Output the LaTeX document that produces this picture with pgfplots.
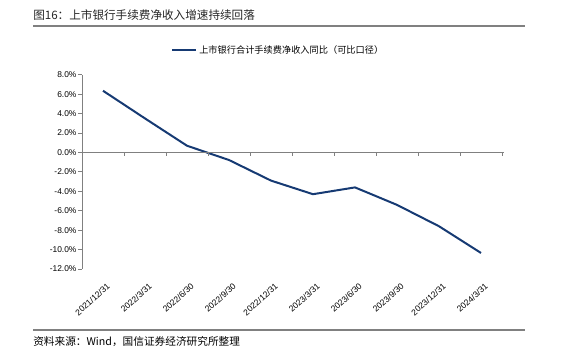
\documentclass[border=0pt]{standalone}
\usepackage{fontspec}
\usepackage{pgfplots}
\pgfplotsset{compat=1.18}
\setmainfont{Noto Sans CJK SC}
\newfontfamily\latinfont{Liberation Sans}
\definecolor{lineblue}{RGB}{22,58,115}
\definecolor{axgray}{RGB}{128,128,128}
\begin{document}
\begin{tikzpicture}
\begin{scope}[x=0.75pt,y=0.75pt]
\useasboundingbox (0,0) rectangle (575,352);
% title and rules
\node[anchor=west,inner sep=0pt,font=\fontsize{8.7pt}{10pt}\selectfont,text=black!85] at (33,337) {图16：上市银行手续费净收入增速持续回落};
\draw[axgray,line width=0.8pt] (33,326) -- (525,326);
\draw[axgray,line width=0.8pt] (33,22) -- (525,22);
\node[anchor=west,inner sep=0pt,font=\fontsize{8pt}{9pt}\selectfont] at (33,10) {资料来源：Wind，国信证券经济研究所整理};
% legend
\draw[lineblue,line width=1.5pt] (172,302) -- (196,302);
\node[anchor=west,inner sep=0pt,font=\fontsize{6.9pt}{8pt}\selectfont] at (199,302) {上市银行合计手续费净收入同比（可比口径）};
\end{scope}
\begin{axis}[
  at={(61.5pt,62.25pt)}, anchor=south west,
  scale only axis, width=315pt, height=145.7pt,
  xmin=-0.5, xmax=9.5, ymin=-12, ymax=8,
  axis x line*=bottom,
  x axis line style={draw=none},
  axis y line*=left,
  y axis line style={axgray,line width=0.6pt,-},
  xtick={0,...,9},
  xticklabels={{2021/12/31},{2022/3/31},{2022/6/30},{2022/9/30},{2022/12/31},{2023/3/31},{2023/6/30},{2023/9/30},{2023/12/31},{2024/3/31}},
  xtick style={draw=none},
  xticklabel style={rotate=42,anchor=north east,inner sep=0pt,xshift=-3pt,yshift=-7pt,font=\latinfont\fontsize{6.4pt}{7pt}\selectfont},
  ytick={-12,-10,...,8},
  ytick style={axgray,line width=0.6pt},
  tick align=outside, major tick length=3pt,
  yticklabel={\pgfmathprintnumber[fixed,fixed zerofill,precision=1]{\tick}\%},
  yticklabel style={font=\latinfont\fontsize{6.3pt}{7pt}\selectfont,inner sep=1pt},
  /pgf/number format/assume math mode=true,
  clip=false,
]
\addplot[lineblue,line width=1.5pt,no marks] coordinates {
(0,6.35) (1,3.5) (2,0.69) (3,-0.78) (4,-2.9) (5,-4.3) (6,-3.6) (7,-5.4) (8,-7.6) (9,-10.35)
};
\draw[axgray,line width=0.6pt] (axis cs:-0.5,0) -- (axis cs:9.55,0);
\pgfplotsinvokeforeach{0.5,1.5,2.5,3.5,4.5,5.5,6.5,7.5,8.5,9.5}{\draw[axgray,line width=0.6pt] (axis cs:#1,0) -- ([yshift=-2.5pt]axis cs:#1,0);}
\end{axis}
\end{tikzpicture}
\end{document}
